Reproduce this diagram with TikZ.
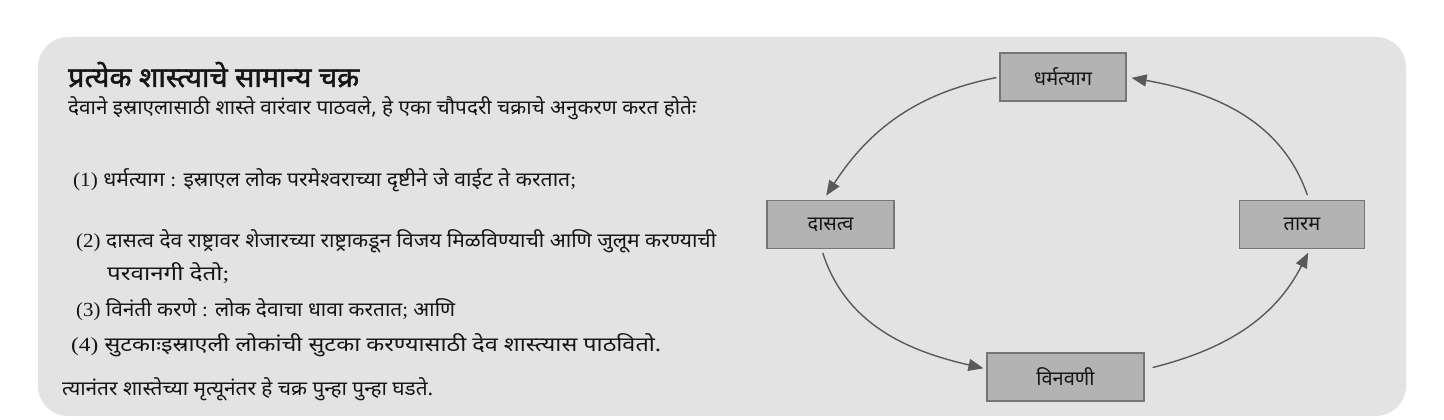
\documentclass[tikz,border=0pt]{standalone}
\usepackage{fontspec}
\usetikzlibrary{arrows.meta}
\newfontfamily\devfont[Script=Devanagari]{Noto Sans}
\newfontfamily\devtitle[Script=Devanagari,FakeBold=1.6]{Noto Sans}
\newfontfamily\latnum{Liberation Serif}
\newcommand{\nm}[1]{{\latnum #1}}
\newsavebox{\fitbox}
\newcommand{\fitw}[2]{\sbox{\fitbox}{#2}\pgfmathsetmacro{\fitfac}{#1/\the\wd\fitbox}\scalebox{\fitfac}[1]{\usebox{\fitbox}}}
\definecolor{bgc}{HTML}{E3E3E3}
\definecolor{boxfill}{HTML}{B3B3B3}
\definecolor{boxdraw}{HTML}{767676}
\definecolor{arrc}{HTML}{5A5A5A}
\definecolor{txt}{HTML}{151515}
\tikzset{
  cyclebox/.style={draw=boxdraw, line width=1.3pt, fill=boxfill, minimum height=48pt, inner sep=0pt, font=\devfont\fontsize{20}{24}\selectfont, text=txt},
  cyclearrow/.style={draw=arrc, line width=1.4pt, -{Triangle[length=15pt,width=12pt]}},
  bodytext/.style={anchor=base west, inner sep=0pt, font=\devfont\fontsize{20}{24}\selectfont, text=txt},
  titletext/.style={anchor=base west, inner sep=0pt, font=\devtitle\fontsize{28}{32}\selectfont, text=txt}
}
\begin{document}
\begin{tikzpicture}[x=1pt,y=1pt]
\useasboundingbox (0,0) rectangle (1444,-420);
\fill[bgc, rounded corners=30pt] (38,-37) rectangle (1406,-416);
% text
\node[titletext] (title) at (68,-87) {\fitw{291}{प्रत्येक शास्त्याचे सामान्य चक्र}};
\node[bodytext] (l1) at (68,-114) {\fitw{628}{देवाने इस्राएलासाठी शास्ते वारंवार पाठवले, हे एका चौपदरी चक्राचे अनुकरण करत होतेः}};
\node[bodytext] (l2) at (73,-186) {\fitw{503}{\nm{(1)} धर्मत्याग \nm{:} इस्राएल लोक परमेश्वराच्या दृष्टीने जे वाईट ते करतात\nm{;}}};
\node[bodytext] (l3) at (76,-247) {\fitw{640}{\nm{(2)} दासत्व देव राष्ट्रावर शेजारच्या राष्ट्राकडून विजय मिळविण्याची आणि जुलूम करण्याची}};
\node[bodytext] (l3b) at (107,-280) {\fitw{122}{परवानगी देतो\nm{;}}};
\node[bodytext] (l4) at (76,-316) {\fitw{379}{\nm{(3)} विनंती करणे \nm{:} लोक देवाचा धावा करतात\nm{;} आणि}};
\node[bodytext] (l5) at (71,-351) {\fitw{590}{\nm{(4)} सुटकाःइस्राएली लोकांची सुटका करण्यासाठी देव शास्त्यास पाठवितो.}};
\node[bodytext] (l6) at (62,-395) {\fitw{371}{त्यानंतर शास्तेच्या मृत्यूनंतर हे चक्र पुन्हा पुन्हा घडते.}};
% cycle
\node[cyclebox, minimum width=126pt] (dh) at (1063,-77) {धर्मत्याग};
\node[cyclebox, minimum width=127pt] (das) at (830.5,-224.5) {दासत्व};
\node[cyclebox, minimum width=125pt] (tar) at (1302,-224.5) {तारम};
\node[cyclebox, minimum width=157pt] (vin) at (1065.5,-377) {विनवणी};
\draw[cyclearrow, shorten <=3pt, shorten >=5pt] (dh.west) to[out=191,in=57] ([xshift=-7pt]das.north);
\draw[cyclearrow, shorten <=4pt, shorten >=3pt] ([xshift=-9pt]das.south) to[out=-72,in=167] ([yshift=8pt]vin.west);
\draw[cyclearrow, shorten <=2pt, shorten >=4pt] ([xshift=6pt,yshift=9pt]vin.east) to[out=14,in=-117] ([xshift=8pt]tar.south);
\draw[cyclearrow, shorten <=5pt, shorten >=5pt] ([xshift=7pt]tar.north) to[out=109,in=-10] (dh.east);
\end{tikzpicture}
\end{document}
